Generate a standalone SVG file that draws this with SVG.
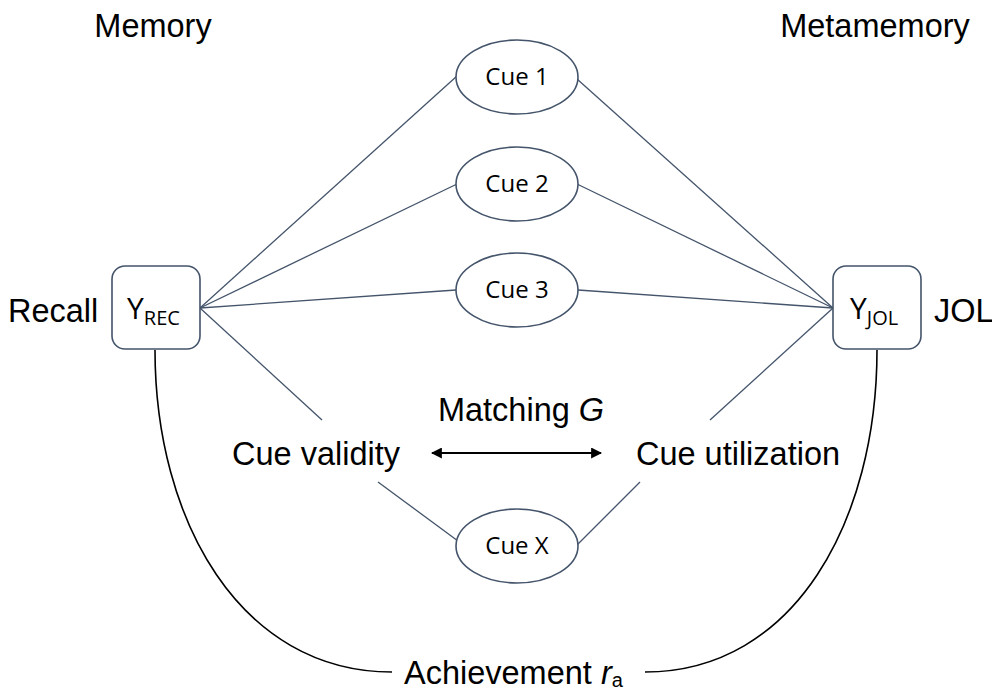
<svg xmlns="http://www.w3.org/2000/svg" width="992" height="693" viewBox="0 0 992 693">
<style>
.lbl{font-family:"Liberation Sans",Arial,sans-serif;font-size:32.5px;fill:#000}
.cue{font-family:"Open Sans","Noto Sans",sans-serif;font-size:24px;fill:#000}
.node{fill:#fff;stroke:#44546a;stroke-width:1.6}
.edge{stroke:#44546a;stroke-width:1.3;fill:none}
.curve{stroke:#000;stroke-width:1.6;fill:none}
</style>
<defs>
<marker id="ah" viewBox="0 0 10 10" refX="9" refY="5" markerWidth="11" markerHeight="11" markerUnits="userSpaceOnUse" orient="auto-start-reverse">
<path d="M0,0 L10,5 L0,10 z" fill="#000"/>
</marker>
</defs>
<rect width="992" height="693" fill="#fff"/>
<g id="connectors">
<line class="edge" x1="200" y1="308" x2="457" y2="76"/>
<line class="edge" x1="200" y1="308" x2="457" y2="184"/>
<line class="edge" x1="200" y1="308" x2="456" y2="290"/>
<line class="edge" x1="200" y1="308" x2="322" y2="420"/>
<line class="edge" x1="378" y1="482" x2="458" y2="541"/>
<line class="edge" x1="577" y1="79" x2="833" y2="308"/>
<line class="edge" x1="577" y1="184" x2="833" y2="308"/>
<line class="edge" x1="578" y1="290" x2="833" y2="308"/>
<line class="edge" x1="833" y1="308" x2="710" y2="420"/>
<line class="edge" x1="640" y1="482" x2="577" y2="545"/>
<path class="curve" d="M155,350 C155,520 240,672 392,672"/>
<path class="curve" d="M877,350 C877,520 795,672 645,672"/>
<line x1="432" y1="453" x2="601" y2="453" stroke="#000" stroke-width="2.2" marker-start="url(#ah)" marker-end="url(#ah)"/>
</g>
<g id="yrec">
<rect class="node" x="112" y="266" width="88" height="83" rx="13"/>
<text class="cue" x="127" y="319" style="font-size:30px">Y<tspan style="font-size:20px" dy="6">REC</tspan></text>
</g>
<g id="yjol">
<rect class="node" x="833" y="266" width="88" height="83" rx="13"/>
<text class="cue" x="850" y="319" style="font-size:30px">Y<tspan style="font-size:20px" dy="6">JOL</tspan></text>
</g>
<g id="cue1">
<ellipse class="node" cx="517" cy="77" rx="61" ry="37"/>
<text class="cue" x="517" y="85" text-anchor="middle">Cue 1</text>
</g>
<g id="cue2">
<ellipse class="node" cx="517" cy="184" rx="61" ry="37"/>
<text class="cue" x="517" y="192" text-anchor="middle">Cue 2</text>
</g>
<g id="cue3">
<ellipse class="node" cx="517" cy="290" rx="61" ry="37"/>
<text class="cue" x="517" y="298" text-anchor="middle">Cue 3</text>
</g>
<g id="cuex">
<ellipse class="node" cx="517" cy="546" rx="61" ry="37"/>
<text class="cue" x="517" y="554" text-anchor="middle">Cue X</text>
</g>
<g id="labels">
<text class="lbl" x="153" y="37" text-anchor="middle">Memory</text>
<text class="lbl" x="875" y="37" text-anchor="middle">Metamemory</text>
<text class="lbl" x="8" y="322">Recall</text>
<text class="lbl" x="934" y="322">JOL</text>
<text class="lbl" x="316" y="465" text-anchor="middle">Cue validity</text>
<text class="lbl" x="738" y="465" text-anchor="middle">Cue utilization</text>
<text class="lbl" x="521" y="421" text-anchor="middle">Matching <tspan font-style="italic">G</tspan></text>
<text class="lbl" x="404" y="684">Achievement <tspan font-style="italic">r</tspan><tspan style="font-size:20px" dy="3">a</tspan></text>
</g>
</svg>
